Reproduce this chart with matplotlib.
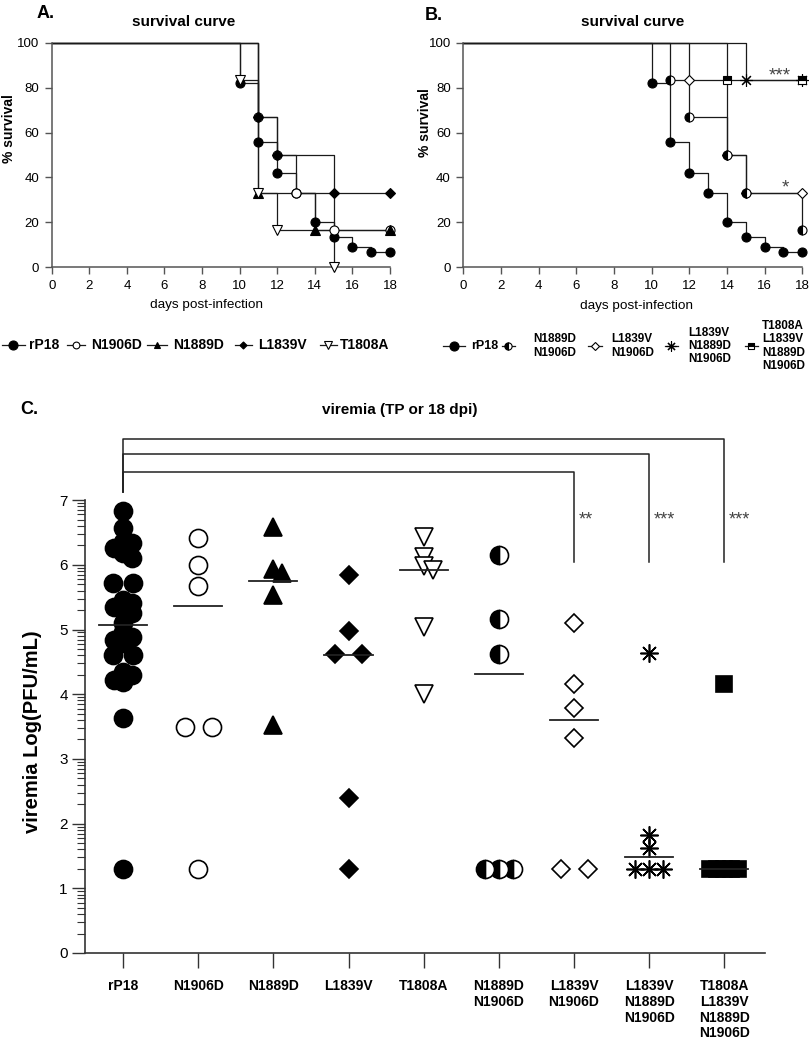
import numpy as np
import matplotlib.pyplot as plt
from matplotlib.lines import Line2D

plt.rcParams['font.family'] = ['Liberation Sans', 'DejaVu Sans']

# ---------------- data ----------------
# survival curves: day of each death event and % survival after it
rp18_days = [10, 11, 12, 13, 14, 15, 16, 17]
rp18_surv = [82.2, 55.6, 42.2, 33.3, 20.0, 13.3, 8.9, 6.7]
n1906d_days = [11, 12, 13, 15]
n1906d_surv = [66.7, 50.0, 33.3, 16.7]
n1889d_days = [11, 14]
n1889d_surv = [33.3, 16.7]
l1839v_days = [11, 12, 15]
l1839v_surv = [66.7, 50.0, 33.3]
t1808a_days = [10, 11, 12, 15]
t1808a_surv = [83.3, 33.3, 16.7, 0.0]

dbl_days = [11, 12, 14, 15, 18]          # N1889D N1906D
dbl_surv = [83.3, 66.7, 50.0, 33.3, 16.7]
ln_days = [12, 14, 15]                    # L1839V N1906D
ln_surv = [83.3, 50.0, 33.3]
triple_days = [15]                        # L1839V N1889D N1906D
triple_surv = [83.3]
quad_days = [14]                          # T1808A L1839V N1889D N1906D
quad_surv = [83.3]

# viremia, log PFU/mL
groups = ['rP18', 'N1906D', 'N1889D', 'L1839V', 'T1808A',
          'N1889D\nN1906D', 'L1839V\nN1906D', 'L1839V\nN1889D\nN1906D',
          'T1808A\nL1839V\nN1889D\nN1906D']
vir_rp18 = [6.83, 6.57, 6.35, 6.34, 6.26, 6.18, 6.10, 5.72, 5.72, 5.46, 5.41,
            5.35, 5.30, 5.25, 5.10, 4.96, 4.89, 4.84, 4.79, 4.61, 4.61, 4.34,
            4.30, 4.22, 4.19, 3.63, 1.3]
vir_n1906d = [6.42, 5.99, 5.67, 3.5, 3.5, 1.3]
vir_n1889d = [6.59, 5.93, 5.87, 5.53, 3.52]
vir_l1839v = [5.85, 4.98, 4.62, 4.62, 2.40, 1.3]
vir_t1808a = [6.43, 6.12, 5.98, 5.92, 5.04, 4.01]
vir_dbl = [6.15, 5.16, 4.62, 1.3, 1.3, 1.3]
vir_ln = [5.10, 4.16, 3.79, 3.32, 1.3, 1.3]
vir_triple = [4.63, 1.82, 1.62, 1.3, 1.3, 1.3]
vir_quad = [4.15, 1.3, 1.3, 1.3, 1.3, 1.3]
center_line = [5.07, 5.36, 5.75, 4.60, 5.92, 4.31, 3.60, 1.48, 1.30]

# significance vs rP18
sig_groups = [6, 7, 8]
sig_text = ['**', '***', '***']

# ---------------- figure ----------------
W, H = 812, 1044
fig = plt.figure(figsize=(W / 100, H / 100), dpi=100)


def fx(px):
    return px / W


def fy(py):
    return 1 - py / H


def box(l, t, r, b):
    return [fx(l), fy(b), fx(r) - fx(l), fy(t) - fy(b)]


LINE = '#1a1a1a'
SPINE = '#555555'


def style_surv(ax):
    ax.set_xlim(0, 18)
    ax.set_ylim(0, 100)
    ax.set_xticks(np.arange(0, 19, 2))
    ax.set_yticks(np.arange(0, 101, 20))
    for s in ('top', 'right'):
        ax.spines[s].set_visible(False)
    for s in ('left', 'bottom'):
        ax.spines[s].set_color(SPINE)
        ax.spines[s].set_linewidth(1.1)
    ax.tick_params(direction='out', length=5, width=1.0, color=SPINE,
                   labelsize=9.5, pad=4)
    ax.patch.set_alpha(0)


def km(ax, days, surv, mk, end=True):
    x = [0] + list(days)
    y = [100] + list(surv)
    if end and x[-1] < 18:
        x.append(18)
        y.append(y[-1])
    ax.step(x, y, where='post', color=LINE, lw=0.9, clip_on=False, zorder=2)
    ax.plot(x[1:], y[1:], ls='none', clip_on=False, zorder=3, **mk)


m_rp18 = dict(marker='o', ms=6.5, mfc='black', mec='black', mew=0.8)
m_n1906d = dict(marker='o', ms=6.5, mfc='white', mec='black', mew=0.8)
m_n1889d = dict(marker='^', ms=6.5, mfc='black', mec='black', mew=0.8)
m_l1839v = dict(marker='D', ms=4.8, mfc='black', mec='black', mew=0.8)
m_t1808a = dict(marker='v', ms=7, mfc='white', mec='black', mew=0.8)
m_dbl = dict(marker='o', ms=6.5, fillstyle='left', mfc='black',
             markerfacecoloralt='white', mec='black', mew=0.8)
m_ln = dict(marker='D', ms=5, mfc='white', mec='black', mew=0.8)
m_triple = dict(marker=(8, 2, 0), ms=9, mec='black', mew=0.8)
m_quad = dict(marker='s', ms=6, fillstyle='top', mfc='black',
              markerfacecoloralt='white', mec='black', mew=0.8)

# ---- panel A ----
axA = fig.add_axes(box(51.7, 42.7, 390, 267.3))
style_surv(axA)
km(axA, rp18_days, rp18_surv, m_rp18)
km(axA, n1906d_days, n1906d_surv, m_n1906d)
km(axA, n1889d_days, n1889d_surv, m_n1889d)
km(axA, l1839v_days, l1839v_surv, m_l1839v)
km(axA, t1808a_days, t1808a_surv, m_t1808a, end=False)

# ---- panel B ----
axB = fig.add_axes(box(463.3, 42.7, 802.3, 267.3))
style_surv(axB)
km(axB, rp18_days, rp18_surv, m_rp18)
km(axB, ln_days, ln_surv, m_ln)
km(axB, dbl_days, dbl_surv, m_dbl)
km(axB, triple_days, triple_surv, m_triple)
km(axB, quad_days, quad_surv, m_quad)
axB.text(16.8, 83.3, '***', ha='center', va='baseline', fontsize=13.5, color='#444')
axB.text(17.1, 33.3, '*', ha='center', va='baseline', fontsize=13.5, color='#444')

for cx, cy, px_, py_, lx, ly in [(184, 22, 206, 305, 9, 129),
                                  (633, 22, 637, 306, 425, 123)]:
    fig.text(fx(cx), fy(cy), 'survival curve', ha='center', va='center',
             fontsize=11, fontweight='bold')
    fig.text(fx(px_), fy(py_), 'days post-infection', ha='center', va='center',
             fontsize=9.7)
    fig.text(fx(lx), fy(ly), '% survival', ha='center', va='center',
             rotation=90, fontsize=10, fontweight='bold')

fig.text(fx(37), fy(14), 'A.', ha='left', va='center', fontsize=13, fontweight='bold')
fig.text(fx(425), fy(15), 'B.', ha='left', va='center', fontsize=13, fontweight='bold')


# ---- legends (manual rows) ----
def legend_item(x0, hl, y, mk, label, tx, size):
    fig.add_artist(Line2D([fx(x0), fx(x0 + hl)], [fy(y), fy(y)], color=LINE,
                          lw=0.9, transform=fig.transFigure))
    fig.add_artist(Line2D([fx(x0 + hl / 2)], [fy(y)], ls='none',
                          transform=fig.transFigure, **mk))
    fig.text(fx(tx), fy(y), label, ha='left', va='center', fontsize=size,
             fontweight='bold', linespacing=1.15)


legA_labels = ['rP18', 'N1906D', 'N1889D', 'L1839V', 'T1808A']
legA_marks = [m_rp18, m_n1906d, m_n1889d, m_l1839v, m_t1808a]
legA_pos = [(2, 23, 29), (67, 18, 91), (147, 20, 173), (235, 17, 258), (320, 17, 340)]
for (x0, hl, tx), mk, lab in zip(legA_pos, legA_marks, legA_labels):
    small = dict(mk)
    small['ms'] = mk['ms'] * (1.0 if lab == 'rP18' else 0.75)
    legend_item(x0, hl, 345, small, lab, tx, 10)

legB_labels = ['rP18'] + groups[5:]
legB_marks = [m_rp18, m_dbl, m_ln, m_triple, m_quad]
legB_pos = [(443, 22, 471), (502, 13, 533), (588, 14, 611), (665, 13, 688), (745, 13, 762)]
for (x0, hl, tx), mk, lab in zip(legB_pos, legB_marks, legB_labels):
    small = dict(mk)
    small['ms'] = mk['ms'] * (1.0 if lab == 'rP18' else 0.8)
    legend_item(x0, hl, 346, small, lab, tx, 9 if lab == 'rP18' else 8.5)

# ---- panel C ----
axC = fig.add_axes(box(85, 435.4, 765, 953))
axC.set_xlim(-0.505, 8.54)
axC.set_ylim(0, 8)
axC.patch.set_alpha(0)
for s in ('top', 'right'):
    axC.spines[s].set_visible(False)
axC.spines['left'].set_bounds(0, 7)
for s in ('left', 'bottom'):
    axC.spines[s].set_color('#333333')
    axC.spines[s].set_linewidth(1.2)
axC.set_yticks(np.arange(0, 8))
axC.set_yticks([i + np.log10(k) for i in range(7) for k in range(2, 10)], minor=True)
axC.tick_params(axis='y', which='major', direction='out', length=9.5, width=1.0,
                color='#333333', labelsize=11, pad=3)
axC.tick_params(axis='y', which='minor', direction='out', length=6, width=0.8,
                color='#333333')
axC.set_xticks(np.arange(len(groups)))
axC.set_xticklabels(groups, fontsize=10, fontweight='bold', linespacing=1.15)
axC.tick_params(axis='x', direction='out', length=11, width=1.0, color='#333333', pad=8)

fig.canvas.draw()
p0 = axC.transData.transform((0, 0))
p1 = axC.transData.transform((1, 1))
XPX, YPX = p1[0] - p0[0], p1[1] - p0[1]


def swarm(vals, step=9.0, near=9.0, maxw=14.0):
    # simple column scatter: ties spread evenly, others pushed sideways
    vals = np.asarray(vals, float)
    gap = 13.5 if len(vals) <= 8 else 10.0
    off = np.full(len(vals), np.nan)
    for v in np.unique(vals):
        idx = np.where(vals == v)[0]
        if len(idx) > 1:
            g = min(2 * gap, 2 * maxw / (len(idx) - 1))
            off[idx] = (np.arange(len(idx)) - (len(idx) - 1) / 2) * g
    for i in range(len(vals)):
        if not np.isnan(off[i]):
            continue
        done = ~np.isnan(off)
        for k in range(15):
            for cand in ([0.0] if k == 0 else [k * step, -k * step]):
                dx = off[done] - cand
                dy = (vals[done] - vals[i]) * YPX
                if np.all(np.hypot(dx, dy) >= near):
                    off[i] = cand
                    break
            if not np.isnan(off[i]):
                break
    return off / XPX


vir_all = [vir_rp18, vir_n1906d, vir_n1889d, vir_l1839v, vir_t1808a,
           vir_dbl, vir_ln, vir_triple, vir_quad]
c_marks = [
    dict(marker='o', ms=13, mfc='black', mec='black'),
    dict(marker='o', ms=13, mfc='white', mec='black'),
    dict(marker='^', ms=13, mfc='black', mec='black'),
    dict(marker='D', ms=9, mfc='black', mec='black'),
    dict(marker='v', ms=13, mfc='white', mec='black'),
    dict(marker='o', ms=13, fillstyle='left', mfc='black',
         markerfacecoloralt='white', mec='black'),
    dict(marker='D', ms=9, mfc='white', mec='black'),
    dict(marker=(8, 2, 0), ms=13, mec='black'),
    dict(marker='s', ms=12, mfc='black', mec='black'),
]
for i, (vals, mk) in enumerate(zip(vir_all, c_marks)):
    xs = i + swarm(vals)
    axC.plot(xs, vals, ls='none', mew=1.2, clip_on=False, zorder=3, **mk)
    axC.plot([i - 0.32, i + 0.32], [center_line[i]] * 2, color='#222222',
             lw=1.3, zorder=4)

# brackets rP18 vs combination groups
levels = [7.43, 7.72, 7.94]
for j, lvl, txt in zip(sig_groups, levels, sig_text):
    axC.plot([0, 0, j, j], [7.13, lvl, lvl, 6.04], color='#222222', lw=1.1,
             clip_on=False, zorder=2)
    axC.text(j + 0.06, 6.69, txt, ha='left', va='center', fontsize=13, color='#444')

fig.text(fx(400), fy(410), 'viremia (TP or 18 dpi)', ha='center', va='center',
         fontsize=11, fontweight='bold')
fig.text(fx(20), fy(410), 'C.', ha='left', va='center', fontsize=13, fontweight='bold')
fig.text(fx(33), fy(732), 'viremia Log(PFU/mL)', ha='center', va='center',
         rotation=90, fontsize=14.5, fontweight='bold')

fig.savefig('out.png', dpi=100)
